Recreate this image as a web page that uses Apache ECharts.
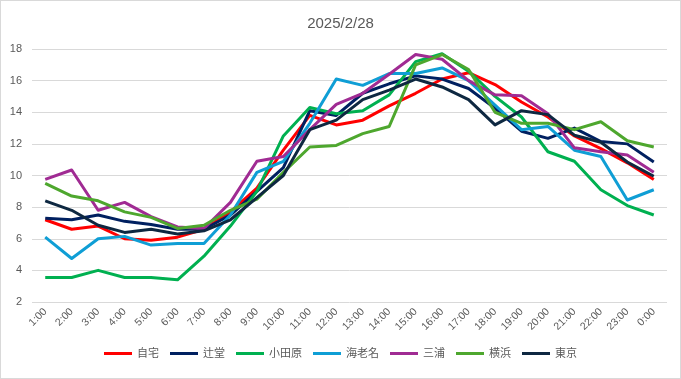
<!DOCTYPE html>
<html>
<head>
<meta charset="utf-8">
<script src="https://cdn.jsdelivr.net/npm/echarts@6/dist/echarts.min.js"></script>
<style>
html,body{margin:0;padding:0;background:#fff;}
#c{width:681px;height:379px;box-sizing:border-box;border:1px solid #d9d9d9;}
</style>
</head>
<body>
<div id="c"></div>
<script>
const categories = ["1:00","2:00","3:00","4:00","5:00","6:00","7:00","8:00","9:00","10:00","11:00","12:00","13:00","14:00","15:00","16:00","17:00","18:00","19:00","20:00","21:00","22:00","23:00","0:00"];
const yTicks = [2,4,6,8,10,12,14,16,18];
const seriesNames = ["自宅","辻堂","小田原","海老名","三浦","横浜","東京"];
const jitaku   = [7.2,6.6,6.8,6.0,5.9,6.1,6.6,7.7,9.2,11.6,13.8,13.2,13.5,14.4,15.2,16.1,16.5,15.75,14.65,13.7,12.5,11.7,10.8,9.75];
const tsujido  = [7.3,7.2,7.5,7.1,6.9,6.6,6.6,7.5,9.0,10.5,14.1,13.8,15.2,15.8,16.3,16.1,15.5,14.25,12.8,12.35,13.0,12.15,12.0,10.85];
const odawara  = [3.55,3.55,4.0,3.55,3.55,3.4,4.9,6.8,9.0,12.5,14.3,13.9,14.1,15.1,17.2,17.7,16.6,15.0,13.7,11.5,10.9,9.1,8.1,7.5];
const ebina    = [6.1,4.75,6.0,6.15,5.6,5.7,5.7,7.5,10.2,10.9,13.3,16.1,15.7,16.45,16.45,16.8,16.0,14.45,12.9,13.1,11.6,11.2,8.45,9.1];
const miura    = [9.75,10.35,7.8,8.3,7.4,6.75,6.65,8.3,10.9,11.2,12.9,14.5,15.2,16.4,17.65,17.35,16.0,15.1,15.05,13.9,11.75,11.5,11.3,10.2];
const yokohama = [9.5,8.7,8.4,7.7,7.35,6.65,6.85,7.8,8.5,10.2,11.8,11.9,12.65,13.1,17.0,17.65,16.7,14.0,13.3,13.3,12.9,13.4,12.2,11.8];
const tokyo    = [8.4,7.8,6.85,6.4,6.6,6.3,6.5,7.2,8.6,10.0,12.9,13.5,14.8,15.4,16.1,15.6,14.8,13.2,14.1,13.85,12.55,12.1,10.85,9.95];
const seriesData = [jitaku,tsujido,odawara,ebina,miura,yokohama,tokyo];
const colors = ["#FF0000","#002060","#00B050","#0F9ED5","#A02B93","#4EA72E","#0E2841"];

const font = '"Liberation Sans","Noto Sans CJK JP",sans-serif';
const chart = echarts.init(document.getElementById('c'));
chart.setOption({
  animation:false,
  textStyle:{fontFamily:font},
  title:{text:"2025/2/28",left:'center',top:10,textStyle:{fontSize:15,fontWeight:'normal',color:'#595959',fontFamily:font}},
  grid:{left:31,right:13,top:48,bottom:76},
  legend:{
    bottom:14,left:'center',icon:'rect',itemWidth:28,itemHeight:3,itemGap:11,
    textStyle:{fontSize:11,color:'#595959',fontFamily:font},
    data:seriesNames
  },
  xAxis:{
    type:'category',data:categories,boundaryGap:true,
    axisLine:{show:false},axisTick:{show:false},
    axisLabel:{rotate:45,fontSize:10.5,color:'#595959',margin:8,interval:0}
  },
  yAxis:{
    type:'value',min:yTicks[0],max:yTicks[yTicks.length-1],interval:2,
    axisLine:{show:false},axisTick:{show:false},
    axisLabel:{fontSize:11,color:'#595959',margin:10},
    splitLine:{lineStyle:{color:'#d9d9d9',width:1}}
  },
  series:seriesNames.map((n,i)=>({
    name:n,type:'line',data:seriesData[i],symbol:'none',
    lineStyle:{width:3,color:colors[i],join:'round'},itemStyle:{color:colors[i]}
  }))
});
</script>
</body>
</html>
